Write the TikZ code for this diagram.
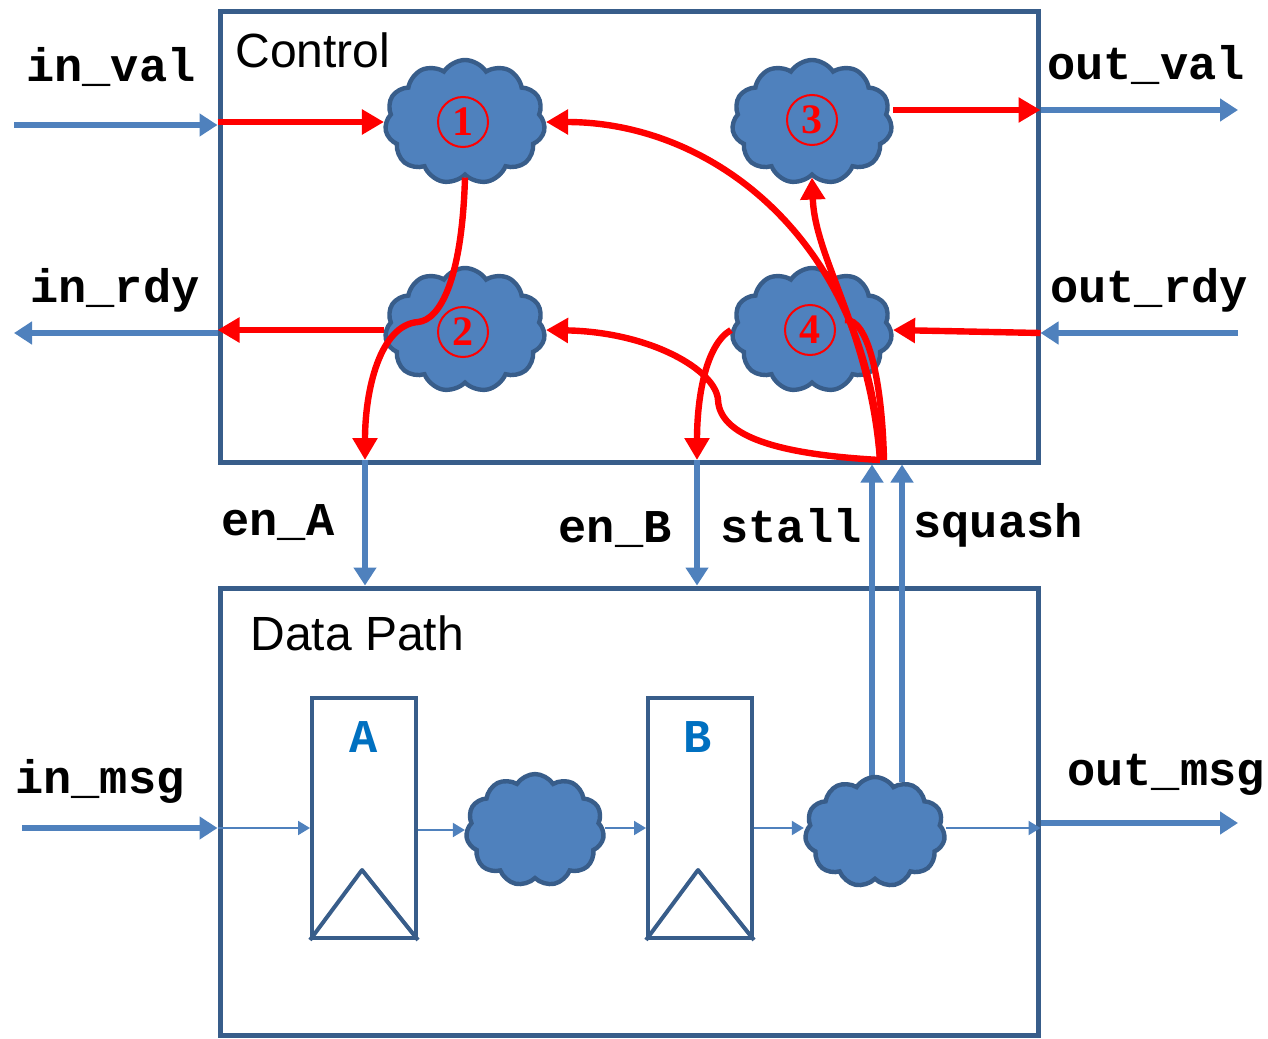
\documentclass[tikz,border=0pt]{standalone}
\usepackage{fontspec}
\setmainfont{Liberation Sans}
\setmonofont{Liberation Mono}
\newfontfamily\numfont{Liberation Serif}
\usetikzlibrary{arrows.meta,positioning,shapes.symbols}
\definecolor{cloudblue}{RGB}{79,129,189}
\definecolor{edgeblue}{RGB}{56,93,138}
\definecolor{regblue}{RGB}{0,112,192}

\begin{document}
\begin{tikzpicture}[
    x=0.5pt,y=-0.5pt,
    block/.style={rectangle,draw=edgeblue,line width=2.5pt,minimum width=409pt},
    cloudy/.style={cloud,cloud puffs=11,cloud puff arc=115,cloud ignores aspect,
                   draw=edgeblue,line width=2.2pt,fill=cloudblue,
                   minimum width=80pt,minimum height=62pt,inner sep=0pt},
    num/.style={circle,draw=red,line width=1pt,text=red,minimum size=25pt,
                inner sep=0pt,font=\numfont\bfseries\fontsize{21}{21}\selectfont},
    reg/.style={rectangle,draw=edgeblue,line width=2pt,minimum width=52pt,minimum height=120pt},
    sig/.style={font=\ttfamily\bfseries\fontsize{23.5}{28}\selectfont,anchor=base,inner sep=0pt},
    title/.style={font=\fontsize{24}{28}\selectfont,anchor=base west,inner sep=0pt},
    wire/.style={-{Triangle[length=9pt,width=11pt]},cloudblue,line width=2.8pt},
    thinwire/.style={-{Triangle[length=6pt,width=7pt]},cloudblue,line width=1pt},
    ctl/.style={-{Triangle[length=11pt,width=12pt]},red,line width=3.2pt}
]
    \useasboundingbox (0,0) rectangle (1268,1038);

    % the two blocks
    \node[block,minimum height=225pt] (ctrl) at (629,237) {};
    \node[block,minimum height=223.5pt] (dpath) at (629,811.5) {};
    \node[title] (ctrltitle) at (235,68) {Control};
    \node[title] (dptitle) at (250,650) {Data Path};

    % control logic
    \node[cloudy] (c1) at (465,122) {};
    \node[cloudy] (c2) at (465,330) {};
    \node[cloudy] (c3) at (812,122) {};
    \node[cloudy] (c4) at (812,330) {};
    \node[num] (n1) at (463,122) {1};
    \node[num] (n2) at (463,332) {2};
    \node[num] (n3) at (812,120) {3};
    \node[num] (n4) at (810,330) {4};

    % interface signals
    \coordinate (inval) at (14,125);
    \coordinate (inrdy) at (14,333);
    \coordinate (outval) at (1238,110);
    \coordinate (outrdy) at (1238,333);
    \draw[wire] (inval) -- (inval -| ctrl.west);
    \draw[ctl] (ctrl.west |- c1.west) -- (c1.west);
    \draw[ctl] (c2.west) -- (c2.west -| ctrl.west);
    \draw[wire] (inrdy -| ctrl.west) -- (inrdy);
    \draw[ctl] (c3.east |- outval) -- (outval -| ctrl.east);
    \draw[wire] (outval -| ctrl.east) -- (outval);
    \draw[wire] (outrdy) -- (outrdy -| ctrl.east);
    \draw[ctl] (outrdy -| ctrl.east) -- (c4.east);
    \node[sig] (lblinval) at (111,82) {in\_val};
    \node[sig] (lblinrdy) at (115,302) {in\_rdy};
    \node[sig] (lbloutval) at (1146,80) {out\_val};
    \node[sig] (lbloutrdy) at (1149,302) {out\_rdy};

    % enables and status
    \coordinate (enA) at (365,460);
    \coordinate (enB) at (697,460);
    \coordinate (J) at (880,460);
    \coordinate (stall) at (872,784);
    \coordinate (squash) at (902,782);
    \draw[wire] (enA) -- (enA |- dpath.north);
    \draw[wire] (enB) -- (enB |- dpath.north);
    \draw[wire] (stall) -- (stall |- ctrl.south);
    \draw[wire] (squash) -- (squash |- ctrl.south);
    \node[sig] (lblenA) at (278,535) {en\_A};
    \node[sig] (lblenB) at (615,542) {en\_B};
    \node[sig] (lblstall) at (791,542) {stall};
    \node[sig] (lblsquash) at (998,537) {squash};

    \draw[ctl] (c1.south) .. controls (462,280) and (440,320) .. (418,322)
        .. controls (380,325) and (365,390) .. (enA);
    \draw[ctl] (c4.west) .. controls (705,345) and (697,400) .. (enB);
    \draw[ctl] (J) .. controls (870,250) and (720,122) .. (c1.east);
    \draw[ctl] (J) .. controls (870,330) and (815,260) .. (c3.south);
    \draw[red,line width=3.2pt] (884,460) .. controls (882,380) and (868,318) .. (845,320);
    \draw[ctl] (J) .. controls (790,455) and (720,440) .. (718,400)
        .. controls (716,370) and (650,332) .. (c2.east);

    % data path
    \node[reg] (rA) at (364,818) {};
    \node[reg] (rB) at (700,818) {};
    \draw[edgeblue,line width=2pt,line join=round] (rA.south west) -- ++(52,-70) -- (rA.south east);
    \draw[edgeblue,line width=2pt,line join=round] (rB.south west) -- ++(52,-70) -- (rB.south east);
    \node[sig,text=regblue] (nameA) at (364,752) {A};
    \node[sig,text=regblue] (nameB) at (698,752) {B};
    \node[cloudy,minimum width=69pt,minimum height=56pt] (cm) at (535,830) {};
    \node[cloudy,minimum width=70pt,minimum height=55pt] (c5) at (875,832) {};

    \coordinate (inmsg) at (22,828);
    \coordinate (outmsg) at (1238,823);
    \draw[wire] (inmsg) -- (inmsg -| dpath.west);
    \draw[thinwire] (inmsg -| dpath.west) -- (inmsg -| rA.west);
    \draw[thinwire] (rA.east |- cm.west) -- (cm.west);
    \draw[thinwire] (cm.east |- inmsg) -- (inmsg -| rB.west);
    \draw[thinwire] (rB.east |- inmsg) -- (c5.west |- inmsg);
    \draw[thinwire] (c5.east |- inmsg) -- (inmsg -| dpath.east);
    \draw[wire] (outmsg -| dpath.east) -- (outmsg);
    \node[sig] (lblinmsg) at (100,793) {in\_msg};
    \node[sig] (lbloutmsg) at (1166,785) {out\_msg};
\end{tikzpicture}
\end{document}
